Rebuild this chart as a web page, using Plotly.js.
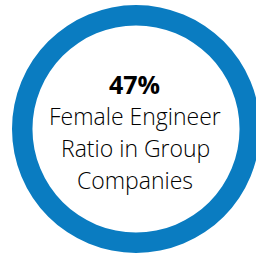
<!DOCTYPE html>
<html>
<head>
<meta charset="utf-8">
<script src="https://cdn.plot.ly/plotly-3.0.1.min.js"></script>
<style>
html,body{margin:0;padding:0;overflow:hidden;background:#fff;width:256px;height:257px;}
#chart{width:264px;height:257px;}
</style>
</head>
<body>
<div id="chart"></div>
<script>
const ringLabels = ["Female Engineer Ratio"];
const ringValues = [100];
const statValue = "47%";
const captionLines = ["Female Engineer", "Ratio in Group", "Companies"];

const W = 264, H = 257;
const cx = 136, cy = 129, R = 124;

const data = [{
  type: "pie",
  labels: ringLabels,
  values: ringValues,
  hole: 0.835,
  sort: false,
  textinfo: "none",
  hoverinfo: "none",
  showlegend: false,
  marker: {colors: ["#0A7CC1"], line: {width: 0}},
  domain: {x: [(cx - R) / W, (cx + R) / W], y: [(H - cy - R) / H, (H - cy + R) / H]}
}];

const annotations = [{
  text: "<b>" + statValue + "</b>",
  x: 134 / W, y: (H - 84) / H, xref: "paper", yref: "paper",
  showarrow: false, xanchor: "center", yanchor: "middle",
  font: {family: "'Open Sans', Roboto, sans-serif", size: 25, color: "#000", weight: 800}
}];
const lineY = [116, 148, 180];
captionLines.forEach((t, i) => {
  annotations.push({
    text: t,
    x: 135 / W, y: (H - lineY[i]) / H, xref: "paper", yref: "paper",
    showarrow: false, xanchor: "center", yanchor: "middle",
    font: {family: "'Open Sans', Roboto, sans-serif", size: 23, color: "#000", weight: 300}
  });
});

const layout = {
  width: W, height: H,
  margin: {l: 0, r: 0, t: 0, b: 0, pad: 0},
  paper_bgcolor: "#fff", plot_bgcolor: "#fff",
  annotations: annotations,
  showlegend: false
};

Plotly.newPlot("chart", data, layout, {displayModeBar: false, staticPlot: true});
</script>
</body>
</html>
